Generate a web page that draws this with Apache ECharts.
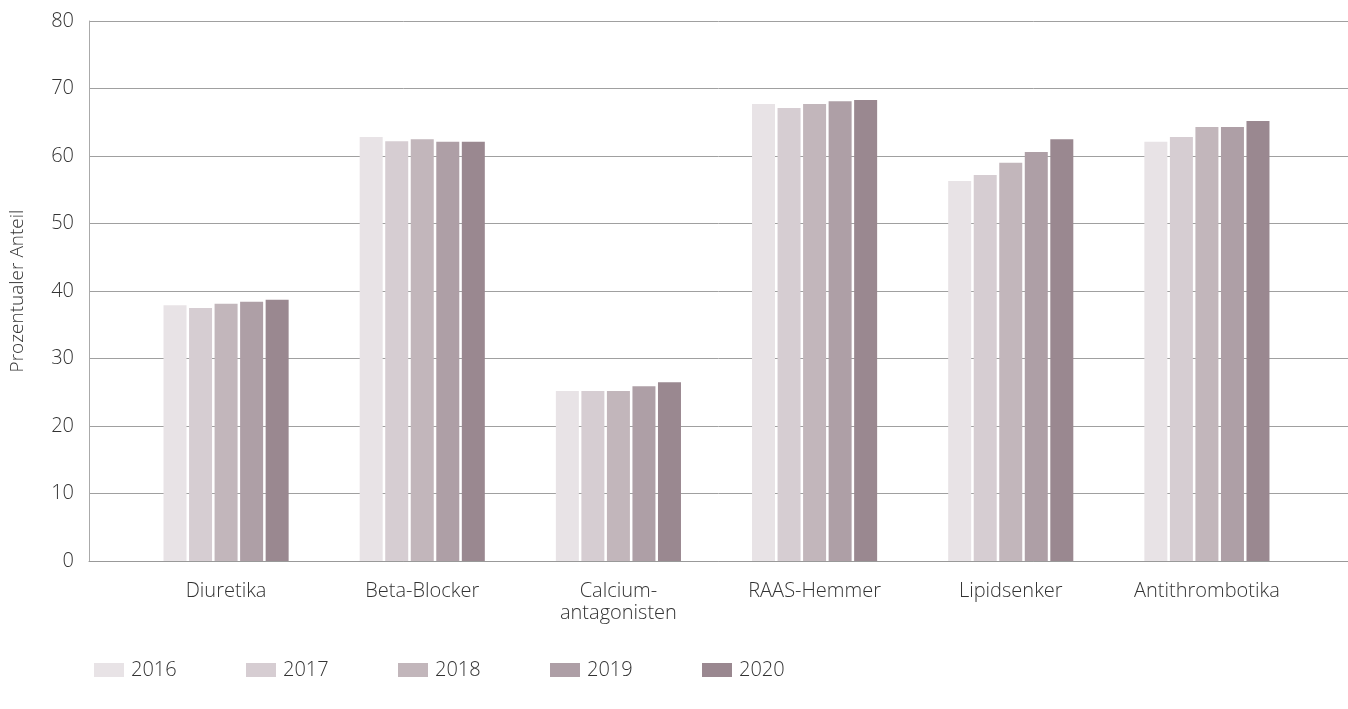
<!DOCTYPE html>
<html>
<head>
<meta charset="utf-8">
<script src="https://cdn.jsdelivr.net/npm/echarts@6/dist/echarts.min.js"></script>
<style>
  html, body { margin:0; padding:0; background:#fff; }
  #chart { width:1348px; height:709px; }
</style>
</head>
<body>
<div id="chart"></div>
<script>
const categories = ["Diuretika", "Beta-Blocker", "Calcium-\nantagonisten", "RAAS-Hemmer", "Lipidsenker", "Antithrombotika"];
const years = ["2016", "2017", "2018", "2019", "2020"];

const v2016 = [37.9, 62.8, 25.2, 67.7, 56.3, 62.1];
const v2017 = [37.5, 62.2, 25.2, 67.1, 57.2, 62.8];
const v2018 = [38.1, 62.5, 25.2, 67.7, 59.0, 64.3];
const v2019 = [38.4, 62.1, 25.9, 68.1, 60.6, 64.3];
const v2020 = [38.7, 62.1, 26.5, 68.3, 62.5, 65.2];

const colors = ["#e8e3e6", "#d6cdd2", "#c2b6bb", "#ae9fa6", "#9a8890"];

const FONT = "'Open Sans', Lato, sans-serif";

const chart = echarts.init(document.getElementById("chart"));

const allValues = [v2016, v2017, v2018, v2019, v2020];

const series = years.map((y, i) => ({
    name: y,
    type: "bar",
    xAxisIndex: 1,
    yAxisIndex: 1,
    barWidth: 23,
    barGap: "11%",
    itemStyle: { color: colors[i] },
    data: allValues[i]
}));

// one legend per year so the spacing is fixed like the original
const legends = years.map((y, i) => ({
    data: [y],
    left: 89 + 152 * i,
    top: 655,
    itemWidth: 30,
    itemHeight: 14,
    itemGap: 0,
    icon: "rect",
    selectedMode: false,
    textStyle: { fontFamily: FONT, fontWeight: 300, fontSize: 20, color: "#333", padding: [0, 0, 0, 2] }
}));

chart.setOption({
    animation: false,
    color: colors,
    legend: legends,
    grid: [
        { left: 89, right: 0, top: 21, bottom: 148 },
        { left: 128, right: 43, top: 21, bottom: 148 }
    ],
    xAxis: [
        {
            gridIndex: 0,
            type: "value",
            min: 0,
            max: 1,
            axisLine: { show: true, lineStyle: { color: "#999", width: 1 } },
            axisTick: { show: false },
            axisLabel: { show: false },
            splitLine: { show: false }
        },
        {
            gridIndex: 1,
            type: "category",
            data: categories,
            axisLine: { show: false },
            axisTick: { show: false },
            axisLabel: {
                margin: 19,
                fontFamily: FONT,
                fontWeight: 300,
                fontSize: 20,
                color: "#333",
                lineHeight: 22
            }
        }
    ],
    yAxis: [
        {
            gridIndex: 0,
            type: "value",
            min: 0,
            max: 80,
            interval: 10,
            name: "Prozentualer Anteil",
            nameLocation: "middle",
            nameGap: 62,
            nameTextStyle: { fontFamily: FONT, fontWeight: 300, fontSize: 19, color: "#333" },
            axisLine: { show: true, lineStyle: { color: "#aaa", width: 1 } },
            axisTick: { show: false },
            axisLabel: { margin: 15, fontFamily: FONT, fontWeight: 300, fontSize: 20, color: "#333" },
            splitLine: { show: true, lineStyle: { color: "#a0a0a0", width: 1 } }
        },
        {
            gridIndex: 1,
            type: "value",
            min: 0,
            max: 80,
            interval: 10,
            show: false,
            splitLine: { show: false }
        }
    ],
    series: series
});
</script>
</body>
</html>
